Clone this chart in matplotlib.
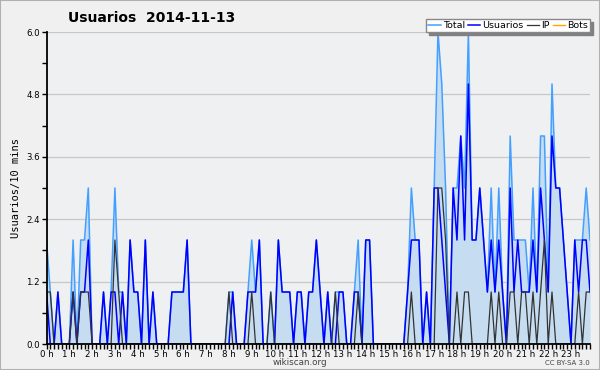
import numpy as np
import matplotlib.pyplot as plt
from matplotlib.patches import Rectangle

# 10-minute slots over the day (144 values)
usuarios = [1, 0, 0, 1, 0, 0, 0, 1, 0, 1, 1, 2,
            0, 0, 0, 1, 0, 1, 1, 0, 1, 0, 2, 1,
            1, 0, 2, 0, 1, 0, 0, 0, 0, 1, 1, 1,
            1, 2, 0, 0, 0, 0, 0, 0, 0, 0, 0, 0,
            0, 1, 0, 0, 0, 1, 1, 1, 2, 0, 0, 0,
            0, 2, 1, 1, 1, 0, 1, 1, 0, 1, 1, 2,
            1, 0, 1, 0, 0, 1, 1, 0, 0, 1, 1, 0,
            2, 2, 0, 0, 0, 0, 0, 0, 0, 0, 0, 1,
            2, 2, 2, 0, 1, 0, 3, 3, 2, 1, 0, 3,
            2, 4, 2, 5, 2, 2, 3, 2, 1, 2, 1, 2,
            1, 0, 3, 1, 2, 1, 1, 1, 2, 1, 3, 2,
            1, 4, 3, 3, 2, 1, 0, 2, 1, 2, 2, 1]
ip = [1, 1, 0, 0, 0, 0, 0, 1, 0, 1, 1, 1,
      0, 0, 0, 0, 0, 0, 2, 1, 0, 0, 0, 0,
      0, 0, 0, 0, 0, 0, 0, 0, 0, 0, 0, 0,
      0, 0, 0, 0, 0, 0, 0, 0, 0, 0, 0, 0,
      1, 0, 0, 0, 0, 0, 1, 0, 0, 0, 0, 1,
      0, 0, 0, 0, 0, 0, 0, 0, 0, 0, 0, 0,
      0, 0, 0, 0, 1, 0, 0, 0, 0, 0, 1, 0,
      0, 0, 0, 0, 0, 0, 0, 0, 0, 0, 0, 0,
      1, 0, 0, 0, 0, 0, 0, 3, 3, 2, 0, 0,
      1, 0, 1, 1, 0, 0, 0, 0, 0, 1, 0, 1,
      0, 0, 1, 1, 0, 1, 1, 0, 1, 0, 1, 2,
      0, 1, 0, 0, 0, 0, 0, 0, 1, 0, 1, 1]
total = [2, 1, 0, 1, 0, 0, 0, 2, 0, 2, 2, 3,
         0, 0, 0, 1, 0, 1, 3, 1, 1, 0, 2, 1,
         1, 0, 2, 0, 1, 0, 0, 0, 0, 1, 1, 1,
         1, 2, 0, 0, 0, 0, 0, 0, 0, 0, 0, 0,
         1, 1, 0, 0, 0, 1, 2, 1, 2, 0, 0, 1,
         0, 2, 1, 1, 1, 0, 1, 1, 0, 1, 1, 2,
         1, 0, 1, 0, 1, 1, 1, 0, 0, 1, 2, 0,
         2, 2, 0, 0, 0, 0, 0, 0, 0, 0, 0, 1,
         3, 2, 2, 0, 1, 0, 3, 6, 5, 3, 0, 3,
         3, 4, 3, 6, 2, 2, 3, 2, 1, 3, 1, 3,
         1, 0, 4, 2, 2, 2, 2, 1, 3, 1, 4, 4,
         1, 5, 3, 3, 2, 1, 0, 2, 2, 2, 3, 2]
bots = [0] * 144

hours = np.arange(144) / 6.0

fig = plt.figure(figsize=(6, 3.7), dpi=100, facecolor='#f0f0f0')
fig.patches.append(Rectangle((0, 0), 1, 1, transform=fig.transFigure,
                             fill=False, edgecolor='#b0b0b0', lw=1.5))
ax = fig.add_axes([46.5/600, 26/370, 543.5/600, 312/370])
ax.set_facecolor('#eef0f2')

ax.fill_between(hours, total, 0, color='#c6dcf0', lw=0, zorder=1)
ax.plot(hours, bots, color='#ffa500', lw=1, zorder=1.5, label='Bots')
ax.plot(hours, total, color='#44a0ff', lw=1.1, zorder=2, label='Total')
ax.plot(hours, usuarios, color='#0000ff', lw=1.1, zorder=3, label='Usuarios')
ax.plot(hours, ip, color='#333333', lw=0.9, zorder=4, label='IP')

ax.set_xlim(0, 143/6)
ax.set_ylim(0, 6)
ax.set_yticks(np.arange(0, 6.01, 1.2))
ax.set_yticklabels(['%.1f' % v for v in np.arange(0, 6.01, 1.2)])
ax.set_yticks(np.arange(0.6, 6, 1.2), minor=True)
ax.set_xticks(range(24))
ax.set_xticklabels(['%d h' % h for h in range(24)])
ax.set_xticks(np.arange(144) / 6.0, minor=True)
ax.grid(axis='y', which='major', color='#c8c8c8', lw=0.9)
ax.set_axisbelow(True)

for s in ['top', 'right']:
    ax.spines[s].set_visible(False)
for s in ['left', 'bottom']:
    ax.spines[s].set_linewidth(1.3)
    ax.spines[s].set_zorder(5)
ax.tick_params(axis='both', which='both', direction='out', width=1, length=3.5,
               labelsize=6.2, pad=1.2, colors='black')
ax.tick_params(axis='x', which='major', length=3.5, pad=0.5)

ax.set_ylabel('Usuarios/10 mins', family='DejaVu Sans Mono', fontsize=7.5, labelpad=4)

fig.text(0.252, 0.952, 'Usuarios  2014-11-13', ha='center', va='center',
         fontsize=10, fontweight='bold')
fig.text(0.5, 0.019, 'wikiscan.org', ha='center', va='center', fontsize=6.3, color='#444444')
fig.text(0.983, 0.019, 'CC BY-SA 3.0', ha='right', va='center', fontsize=5, color='#444444')

h, l = ax.get_legend_handles_labels()
order = [1, 2, 3, 0]
leg = ax.legend([h[i] for i in order], [l[i] for i in order], ncol=4,
                loc='lower right', bbox_to_anchor=(1.0, 1.0), fontsize=6.8,
                frameon=True, fancybox=False, shadow={'color': '#808080', 'alpha': 1},
                handlelength=1.3, handletextpad=0.25, columnspacing=0.3,
                borderpad=0.2, borderaxespad=0)
leg.get_frame().set_edgecolor('#888888')
leg.get_frame().set_linewidth(1)
leg.set_zorder(10)

fig.savefig('out.png', dpi=100, facecolor=fig.get_facecolor())
